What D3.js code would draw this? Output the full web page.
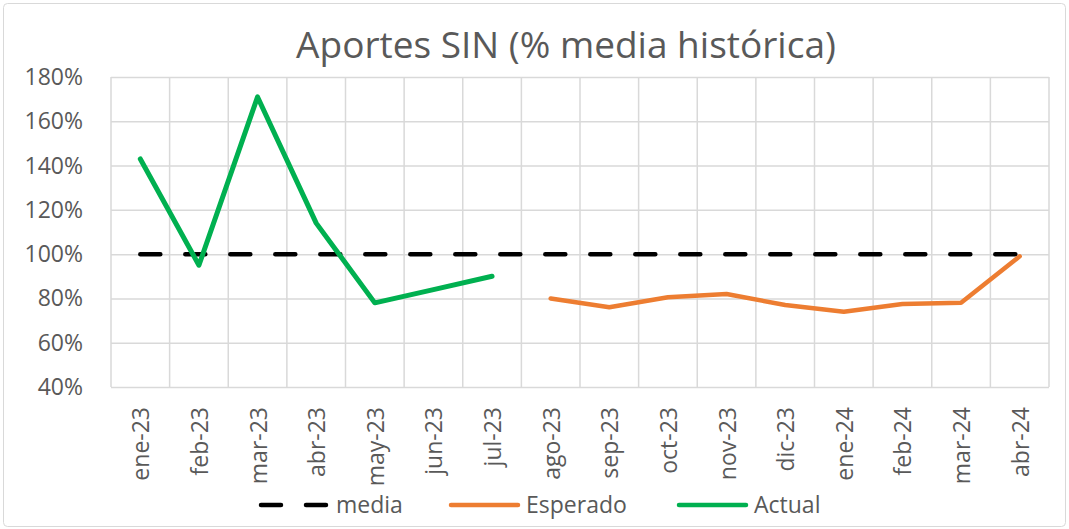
<!DOCTYPE html>
<html>
<head>
<meta charset="utf-8">
<script src="https://cdn.jsdelivr.net/npm/d3@7"></script>
<style>
  body { margin: 0; background: #fff; }
  text { font-family: "Open Sans", sans-serif; fill: #595959; }
</style>
</head>
<body>
<script>
// data
var months = ["ene-23","feb-23","mar-23","abr-23","may-23","jun-23","jul-23","ago-23",
              "sep-23","oct-23","nov-23","dic-23","ene-24","feb-24","mar-24","abr-24"];
var media = [100,100,100,100,100,100,100,100,100,100,100,100,100,100,100,100];
var esperado = [null,null,null,null,null,null,null,80,76,80.5,82,77,74,77.5,78,99];
var actual = [143,95,171,114,78,84,90,null,null,null,null,null,null,null,null,null];
var yTicks = [40,60,80,100,120,140,160,180];

var svgWidth = 1069;
var svgHeight = 529;
var margin = {top: 77, right: 20, bottom: 142, left: 111};
var width = 1049 - margin.left;
var height = 387 - margin.top;

var svg = d3.select("body")
  .append("svg")
  .attr("width", svgWidth)
  .attr("height", svgHeight);

// outer chart border
svg.append("rect")
  .attr("x", 3.5).attr("y", 3.5)
  .attr("width", svgWidth - 7).attr("height", svgHeight - 6)
  .attr("rx", 4)
  .attr("fill", "#fff")
  .attr("stroke", "#d9d9d9")
  .attr("stroke-width", 1);

var chartGroup = svg.append("g")
  .attr("transform", `translate(${margin.left}, ${margin.top})`);

var xscale = d3.scaleBand()
  .domain(months)
  .range([0, width]);

var yscale = d3.scaleLinear()
  .domain([40, 180])
  .range([height, 0]);

// horizontal grid
chartGroup.append("g")
  .call(d3.axisLeft(yscale).tickValues(yTicks).tickSize(-width).tickFormat(""))
  .call(g => g.select(".domain").remove())
  .selectAll("line")
  .attr("stroke", "#d9d9d9")
  .attr("stroke-width", 1.5);

// vertical grid at category boundaries
chartGroup.append("g")
  .selectAll("line")
  .data(months.concat(["end"]))
  .enter()
  .append("line")
  .attr("x1", (d, i) => i * xscale.step())
  .attr("x2", (d, i) => i * xscale.step())
  .attr("y1", 0)
  .attr("y2", height)
  .attr("stroke", "#d9d9d9")
  .attr("stroke-width", 1.5);

// y labels
chartGroup.append("g")
  .selectAll("text")
  .data(yTicks)
  .enter()
  .append("text")
  .attr("x", -28)
  .attr("y", d => yscale(d))
  .attr("dy", "0.35em")
  .attr("text-anchor", "end")
  .style("font-size", "23px")
  .text(d => d + "%");

// x labels, rotated
chartGroup.append("g")
  .selectAll("text")
  .data(months)
  .enter()
  .append("text")
  .attr("transform", d => `translate(${xscale(d) + xscale.bandwidth() / 2 + 9}, ${height + 20}) rotate(-90)`)
  .attr("text-anchor", "end")
  .style("font-size", "23px")
  .text(d => d);

var line = d3.line()
  .defined(d => d != null)
  .x((d, i) => xscale(months[i]) + xscale.bandwidth() / 2)
  .y(d => yscale(d));

chartGroup.append("path")
  .datum(media)
  .attr("d", line)
  .attr("fill", "none")
  .attr("stroke", "#000")
  .attr("stroke-width", 4.5)
  .attr("stroke-linecap", "round")
  .attr("stroke-dasharray", "20 25");

chartGroup.append("path")
  .datum(esperado)
  .attr("d", line)
  .attr("fill", "none")
  .attr("stroke", "#ed7d31")
  .attr("stroke-width", 4.5)
  .attr("stroke-linejoin", "round")
  .attr("stroke-linecap", "round");

chartGroup.append("path")
  .datum(actual)
  .attr("d", line)
  .attr("fill", "none")
  .attr("stroke", "#00b050")
  .attr("stroke-width", 5)
  .attr("stroke-linejoin", "round")
  .attr("stroke-linecap", "round");

// title
svg.append("text")
  .attr("x", 566)
  .attr("y", 58)
  .attr("text-anchor", "middle")
  .style("font-size", "37px")
  .text("Aportes SIN (% media histórica)");

// legend
var legendItems = [
  {name: "media", color: "#000", dash: "20 25", x: 261},
  {name: "Esperado", color: "#ed7d31", dash: null, x: 451},
  {name: "Actual", color: "#00b050", dash: null, x: 679}
];
var legend = svg.append("g");
legendItems.forEach(function(item) {
  legend.append("line")
    .attr("x1", item.x).attr("x2", item.x + 67)
    .attr("y1", 505).attr("y2", 505)
    .attr("stroke", item.color)
    .attr("stroke-width", 4.5)
    .attr("stroke-linecap", "round")
    .attr("stroke-dasharray", item.dash);
  legend.append("text")
    .attr("x", item.x + 75)
    .attr("y", 505)
    .attr("dy", "0.35em")
    .style("font-size", "23px")
    .text(item.name);
});
</script>
</body>
</html>
